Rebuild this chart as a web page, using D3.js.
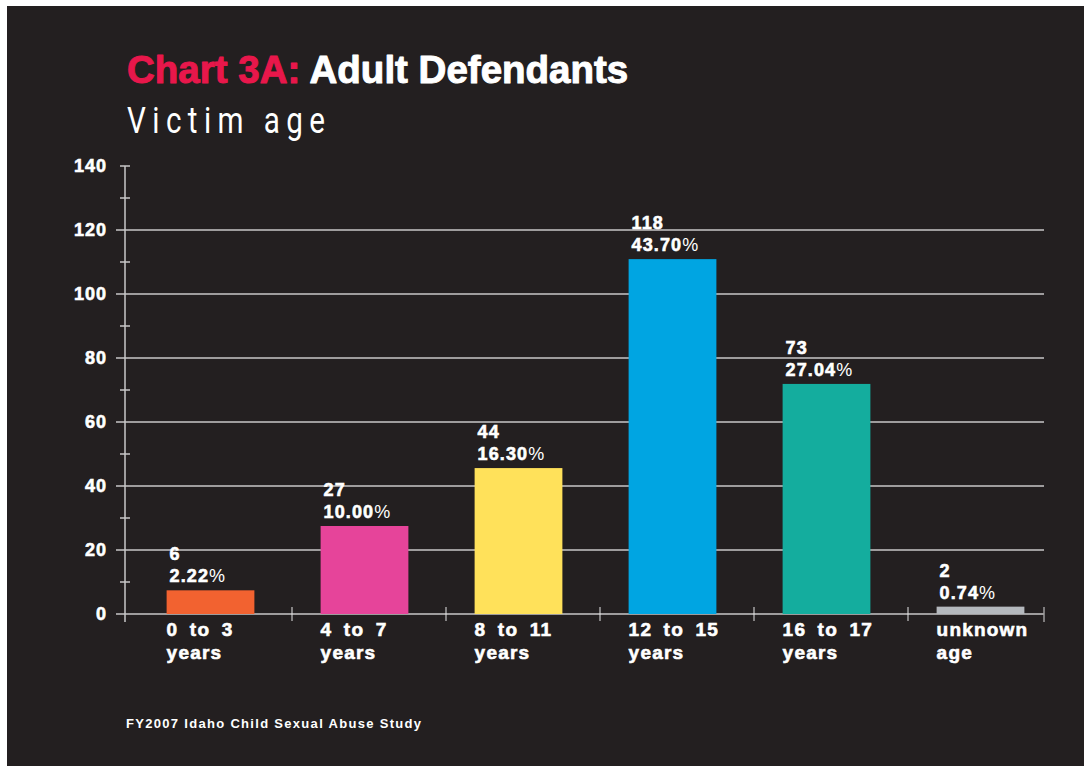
<!DOCTYPE html>
<html>
<head>
<meta charset="utf-8">
<script src="https://cdn.jsdelivr.net/npm/d3@7"></script>
<style>
  html, body { margin: 0; padding: 0; background: #ffffff; }
  svg { display: block; }
</style>
</head>
<body>
<script>
// chart data
var categories = ["0 to 3|years", "4 to 7|years", "8 to 11|years", "12 to 15|years", "16 to 17|years", "unknown|age"];
var counts = [6, 27, 44, 118, 73, 2];
var percents = ["2.22", "10.00", "16.30", "43.70", "27.04", "0.74"];
// bar heights as drawn in the original picture
var barHeights = [7.4, 27.5, 45.6, 110.9, 71.9, 2.3];
var barColors = ["#f26230", "#e6449a", "#ffe15a", "#00a5e2", "#14ad9e", "#b4b8bd"];
var yTicks = [0, 20, 40, 60, 80, 100, 120, 140];
var yMinorTicks = [10, 30, 50, 70, 90, 110, 130];

var width = 1084;
var height = 766;
var font = "'Liberation Sans', Arial, Helvetica, sans-serif";

var svg = d3.select("body").append("svg")
    .attr("width", width)
    .attr("height", height);

// dark panel
svg.append("rect")
    .attr("x", 7).attr("y", 6)
    .attr("width", width - 7).attr("height", height - 6)
    .attr("fill", "#231f20");

// scales
var y = d3.scaleLinear().domain([0, 140]).range([614, 166]);
var x = d3.scaleBand().domain(categories)
    .range([133.5, 1057.5])
    .paddingInner(0.43)
    .paddingOuter(0.215);
var axisLeftX = 125;
var axisRightX = 1044;
var gap = x.step() * x.paddingInner();

// title (stroke thickens the bold face to look like a heavy weight)
var title = svg.append("text")
    .attr("x", 127).attr("y", 83)
    .attr("font-family", font)
    .attr("font-weight", "bold")
    .attr("font-size", 38.5)
    .attr("stroke-width", 1)
    .attr("stroke-linejoin", "round");
title.append("tspan").attr("fill", "#e8174b").attr("stroke", "#e8174b").text("Chart 3A:");
title.append("tspan").attr("fill", "#ffffff").attr("stroke", "#ffffff").text(" Adult Defendants");

// subtitle
svg.append("text")
    .attr("transform", "translate(127,133) scale(0.8,1)")
    .attr("font-family", "'Liberation Sans Narrow', 'Roboto', sans-serif")
    .attr("font-size", 37)
    .attr("fill", "#ffffff")
    .attr("textLength", 198 / 0.8)
    .attr("lengthAdjust", "spacing")
    .text("Victim age");

// gridlines (20 .. 120, plus zero line)
svg.append("g")
    .selectAll("line")
    .data(yTicks.filter(function(d) { return d < 140; }))
    .enter()
    .append("line")
    .attr("x1", 116).attr("x2", axisRightX)
    .attr("y1", function(d) { return y(d); })
    .attr("y2", function(d) { return y(d); })
    .attr("stroke", "#9e9c9d")
    .attr("stroke-width", 2);

// short ticks on the y axis
svg.append("g")
    .selectAll("line")
    .data(yMinorTicks.concat([140]))
    .enter()
    .append("line")
    .attr("x1", 120).attr("x2", 130)
    .attr("y1", function(d) { return y(d); })
    .attr("y2", function(d) { return y(d); })
    .attr("stroke", "#9e9c9d")
    .attr("stroke-width", 2);

// y axis line
svg.append("line")
    .attr("x1", axisLeftX).attr("x2", axisLeftX)
    .attr("y1", y(140)).attr("y2", 622)
    .attr("stroke", "#c9c8c8")
    .attr("stroke-width", 1.5);

// y tick labels
var yAxis = svg.append("g")
    .attr("transform", "translate(" + axisLeftX + ",0)")
    .call(d3.axisLeft(y).tickValues(yTicks).tickSize(0).tickPadding(18));
yAxis.select(".domain").remove();
yAxis.selectAll("text")
    .attr("font-family", font)
    .attr("font-weight", "bold")
    .attr("font-size", 18)
    .attr("letter-spacing", 1)
    .attr("fill", "#ffffff")
    .attr("stroke", "#ffffff")
    .attr("stroke-width", 0.6);

// bars
svg.append("g")
    .selectAll("rect")
    .data(categories)
    .enter()
    .append("rect")
    .attr("x", function(d) { return x(d); })
    .attr("width", x.bandwidth())
    .attr("y", function(d, i) { return y(barHeights[i]); })
    .attr("height", function(d, i) { return y(0) - y(barHeights[i]); })
    .attr("fill", function(d, i) { return barColors[i]; });

// category separators on x axis
svg.append("g")
    .selectAll("line")
    .data(categories.slice(1))
    .enter()
    .append("line")
    .attr("x1", function(d) { return x(d) - gap / 2 + 4.5; })
    .attr("x2", function(d) { return x(d) - gap / 2 + 4.5; })
    .attr("y1", 607).attr("y2", 621)
    .attr("stroke", "#e6e6e6")
    .attr("stroke-width", 1);

svg.append("line")
    .attr("x1", axisRightX).attr("x2", axisRightX)
    .attr("y1", 607).attr("y2", 622)
    .attr("stroke", "#9e9c9d")
    .attr("stroke-width", 1.5);

// value labels above bars
var labels = svg.append("g")
    .selectAll("text")
    .data(categories)
    .enter()
    .append("text")
    .attr("font-family", font)
    .attr("font-weight", "bold")
    .attr("font-size", 18)
    .attr("letter-spacing", 1.1)
    .attr("fill", "#ffffff");

labels.append("tspan")
    .attr("x", function(d) { return x(d) + 3; })
    .attr("y", function(d, i) { return y(barHeights[i]) - 30; })
    .attr("stroke", "#ffffff")
    .attr("stroke-width", 0.6)
    .text(function(d, i) { return counts[i]; });

labels.append("tspan")
    .attr("x", function(d) { return x(d) + 3; })
    .attr("y", function(d, i) { return y(barHeights[i]) - 8; })
    .attr("stroke", "#ffffff")
    .attr("stroke-width", 0.6)
    .text(function(d, i) { return percents[i]; });
labels.append("tspan")
    .attr("font-weight", "normal")
    .text("%");

// category labels
var catLabels = svg.append("g")
    .selectAll("text")
    .data(categories)
    .enter()
    .append("text")
    .attr("font-family", font)
    .attr("font-weight", "bold")
    .attr("font-size", 19)
    .attr("letter-spacing", 1.2)
    .attr("word-spacing", 5)
    .attr("fill", "#ffffff")
    .attr("stroke", "#ffffff")
    .attr("stroke-width", 0.6);

catLabels.append("tspan")
    .attr("x", function(d) { return x(d); })
    .attr("y", 636)
    .text(function(d) { return d.split("|")[0]; });
catLabels.append("tspan")
    .attr("x", function(d) { return x(d); })
    .attr("y", 659)
    .text(function(d) { return d.split("|")[1]; });

// footer
svg.append("text")
    .attr("x", 126).attr("y", 728)
    .attr("font-family", "'Liberation Sans Narrow', " + font)
    .attr("font-weight", "bold")
    .attr("font-size", 13)
    .attr("fill", "#ffffff")
    .attr("textLength", 295)
    .attr("lengthAdjust", "spacing")
    .text("FY2007 Idaho Child Sexual Abuse Study");
</script>
</body>
</html>
